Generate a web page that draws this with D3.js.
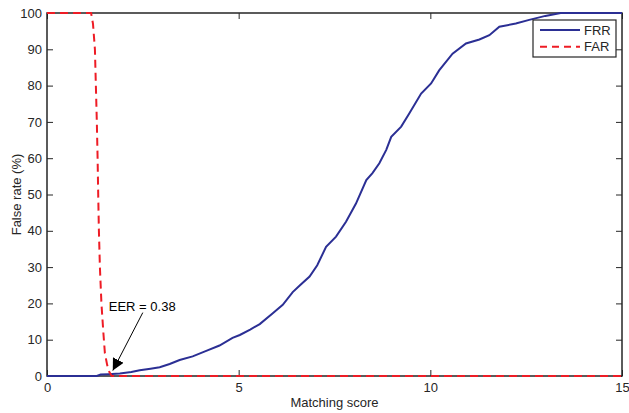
<!DOCTYPE html>
<html lang="en">
<head>
<meta charset="UTF-8">
<title>FRR / FAR</title>
<script src="https://d3js.org/d3.v7.min.js"></script>
<style>
  body { margin: 0; background: #fff; }
  text { font-family: "Liberation Sans", Arial, sans-serif; fill: #262626; }
</style>
</head>
<body>
<div id="plot"></div>
<script>
// FRR curve (matching score, %)
var frrScore = [0, 1.3, 1.4, 1.6, 1.9, 2.2, 2.42, 2.7, 2.94, 3.2, 3.46, 3.8, 4.17, 4.5, 4.84, 5.03, 5.3, 5.55, 5.89, 6.15,
  6.41, 6.6, 6.85, 7.05, 7.28, 7.54, 7.8, 8.06, 8.33, 8.49, 8.67, 8.85, 8.98, 9.24, 9.45, 9.76, 10.02, 10.23,
  10.58, 10.93, 11.28, 11.54, 11.8, 12.23, 12.58, 13.0, 13.4, 15];
var frrValue = [0, 0, 0.4, 0.5, 0.7, 1.1, 1.6, 2.0, 2.4, 3.3, 4.4, 5.4, 7.0, 8.4, 10.5, 11.3, 12.8, 14.3, 17.3, 19.6,
  23.1, 25.0, 27.4, 30.5, 35.6, 38.4, 42.5, 47.5, 54.0, 55.9, 58.6, 62.3, 65.9, 68.7, 72.3, 77.8, 80.6, 84.2,
  88.8, 91.6, 92.7, 93.9, 96.2, 97.1, 98.1, 99.2, 100, 100];

// FAR curve
var farScore = [0, 1.15, 1.2, 1.25, 1.3, 1.32, 1.336, 1.354, 1.38, 1.42, 1.47, 1.51, 1.57, 1.63, 1.69, 15];
var farValue = [100, 100, 97, 90, 70, 60, 50, 40, 30, 20, 12, 6.3, 3, 1, 0, 0];

var xTicks = [0, 5, 10, 15];
var yTicks = [0, 10, 20, 30, 40, 50, 60, 70, 80, 90, 100];
var eer = {score: 1.69, value: 0.38, label: "EER = 0.38"};

var W = 629, H = 413;
var margin = {top: 13, right: 7, bottom: 37, left: 47};
var width = W - margin.left - margin.right;
var height = H - margin.top - margin.bottom;

var svg = d3.select("#plot").append("svg")
  .attr("width", W).attr("height", H);

var defs = svg.append("defs");
defs.append("clipPath").attr("id", "clip")
  .append("rect").attr("width", width).attr("height", height + 4).attr("y", -2);
defs.append("marker").attr("id", "arrow")
  .attr("viewBox", "0 0 10 10").attr("refX", 10).attr("refY", 5)
  .attr("markerWidth", 12).attr("markerHeight", 12).attr("markerUnits", "userSpaceOnUse")
  .attr("orient", "auto")
  .append("path").attr("d", "M0,0 L10,5 L0,10 z").attr("fill", "#000");

var g = svg.append("g").attr("transform", `translate(${margin.left},${margin.top})`);

var x = d3.scaleLinear().domain([0, 15]).range([0, width]);
var y = d3.scaleLinear().domain([0, 100]).range([height, 0]);

var line = d3.line().x(d => x(d[0])).y(d => y(d[1]));

var frr = d3.zip(frrScore, frrValue);
var far = d3.zip(farScore, farValue);

// axes
function styleAxis(sel) {
  sel.select(".domain").remove();
  sel.selectAll("line").attr("stroke", "#262626");
  sel.selectAll("text").attr("font-size", 13).style("fill", "#262626");
}
g.append("g").attr("transform", `translate(0,${height})`)
  .call(d3.axisBottom(x).tickValues(xTicks).tickSizeInner(-6).tickSizeOuter(0).tickPadding(7))
  .call(styleAxis);
g.append("g")
  .call(d3.axisTop(x).tickValues(xTicks).tickSizeInner(-6).tickSizeOuter(0).tickFormat(""))
  .call(styleAxis);
g.append("g")
  .call(d3.axisLeft(y).tickValues(yTicks).tickSizeInner(-6).tickSizeOuter(0).tickPadding(5))
  .call(styleAxis);
g.append("g").attr("transform", `translate(${width},0)`)
  .call(d3.axisRight(y).tickValues(yTicks).tickSizeInner(-6).tickSizeOuter(0).tickFormat(""))
  .call(styleAxis);

g.append("rect").attr("width", width).attr("height", height)
  .attr("fill", "none").attr("stroke", "#262626").attr("stroke-width", 1.5);

var plot = g.append("g").attr("clip-path", "url(#clip)");

plot.append("path").datum(frr)
  .attr("d", line).attr("fill", "none")
  .attr("stroke", "#2b2f94").attr("stroke-width", 2);
plot.append("path").datum(far)
  .attr("d", line).attr("fill", "none")
  .attr("stroke", "#ee1c25").attr("stroke-width", 2)
  .attr("stroke-dasharray", "8,5");

// EER annotation
g.append("line")
  .attr("x1", x(eer.score) + 31).attr("y1", y(eer.value) - 62)
  .attr("x2", x(eer.score) + 1).attr("y2", y(eer.value) - 4)
  .attr("stroke", "#000").attr("stroke-width", 1)
  .attr("marker-end", "url(#arrow)");
g.append("text")
  .attr("x", x(eer.score) - 3).attr("y", y(eer.value) - 64)
  .attr("font-size", 13).style("fill", "#000")
  .text(eer.label);

// labels
svg.append("text")
  .attr("x", margin.left + width / 2).attr("y", 407)
  .attr("text-anchor", "middle").attr("font-size", 13)
  .text("Matching score");
svg.append("text")
  .attr("transform", `translate(21,${margin.top + height / 2}) rotate(-90)`)
  .attr("text-anchor", "middle").attr("font-size", 13)
  .text("False rate (%)");

// legend
var lg = svg.append("g").attr("transform", "translate(533,20)");
lg.append("rect").attr("width", 83).attr("height", 37)
  .attr("fill", "#fff").attr("stroke", "#262626").attr("stroke-width", 1.2);
var items = [["FRR", "#2b2f94", null], ["FAR", "#ee1c25", "7,5"]];
items.forEach(function (it, i) {
  var yy = 10 + i * 16.7;
  lg.append("line").attr("x1", 7).attr("x2", 47).attr("y1", yy).attr("y2", yy)
    .attr("stroke", it[1]).attr("stroke-width", 2)
    .attr("stroke-dasharray", it[2]);
  lg.append("text").attr("x", 51).attr("y", yy + 4.7)
    .attr("font-size", 13).text(it[0]);
});
</script>
</body>
</html>
